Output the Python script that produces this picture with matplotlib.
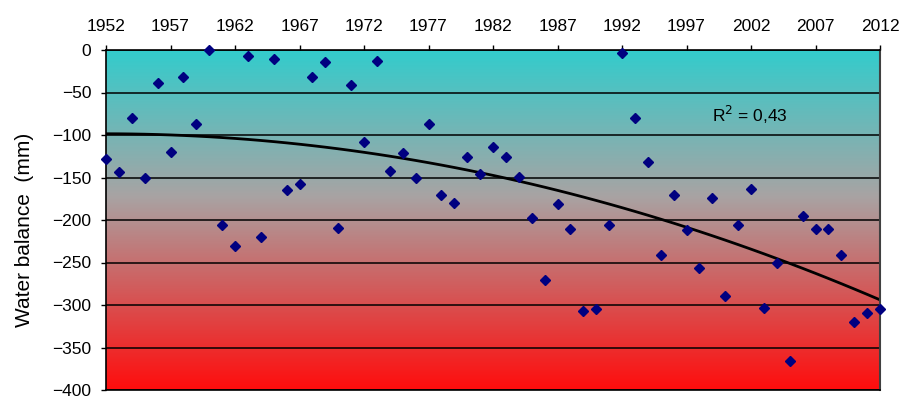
import numpy as np
import matplotlib
matplotlib.use("Agg")
from matplotlib import pyplot as plt
from matplotlib.colors import LinearSegmentedColormap

plt.rcParams['font.family'] = ['Liberation Sans', 'DejaVu Sans']

years = list(range(1952, 2013))
balance = [-128, -144, -80, -150, -39, -120, -32, -87, 0, -206,
           -230, -7, -220, -11, -165, -158, -32, -14, -209, -41,
           -108, -13, -142, -121, -151, -87, -171, -180, -126, -146,
           -114, -126, -149, -198, -270, -181, -211, -307, -305, -206,
           -3, -80, -132, -241, -171, -212, -256, -174, -289, -206,
           -163, -303, -250, -366, -195, -210, -211, -241, -320, -309,
           -305]
xticks = list(range(1952, 2013, 5))
yticks = list(range(-400, 1, 50))
r2_label = "R$^2$ = 0,43"

x = np.array(years)
y = np.array(balance)

fig = plt.figure(figsize=(9.03, 3.98), dpi=100)
ax = fig.add_axes([106/903, 1 - 390/398, (880 - 106)/903, 340/398])

# background gradient teal -> grey -> red
cmap = LinearSegmentedColormap.from_list(
    "bg", [(0.0, (0.20, 0.80, 0.80)), (0.43, (0.66, 0.64, 0.64)), (1.0, (1.0, 0.05, 0.05))])
grad = np.linspace(0, 1, 256).reshape(-1, 1)
ax.imshow(grad, cmap=cmap, aspect='auto', extent=[1952, 2012, -400, 0],
          origin='upper', zorder=0)

for v in yticks:
    ax.axhline(v, color='black', lw=1.1, zorder=1)

# polynomial trend (2nd order)
coef = np.polyfit(x - 1952, y, 2)
ax.plot(x, np.polyval(coef, x - 1952), color='black', lw=2, zorder=2)

ax.plot(x, y, 'D', color='#000080', ms=5.5, zorder=3, clip_on=False)

ax.text(1999.0, -76, r2_label, fontsize=12.5, va='center', ha='left')

ax.set_xlim(1952, 2012)
ax.set_ylim(-400, 0)
ax.set_xticks(xticks)
ax.set_yticks(yticks)
ax.xaxis.tick_top()
ax.tick_params(axis='x', direction='out', length=3.6, width=1, labelsize=12.5, pad=8)
ax.tick_params(axis='y', direction='out', length=3.6, width=1, labelsize=12.5, pad=7)
ax.set_ylabel('Water balance  (mm)', fontsize=15)
ax.yaxis.set_label_coords(-0.093, 0.47)
for s in ['left', 'top', 'bottom']:
    ax.spines[s].set_color('black')
    ax.spines[s].set_linewidth(1.2)
ax.spines['right'].set_color('#404040')
ax.spines['right'].set_linewidth(1.5)

fig.savefig("out.png", dpi=100)
